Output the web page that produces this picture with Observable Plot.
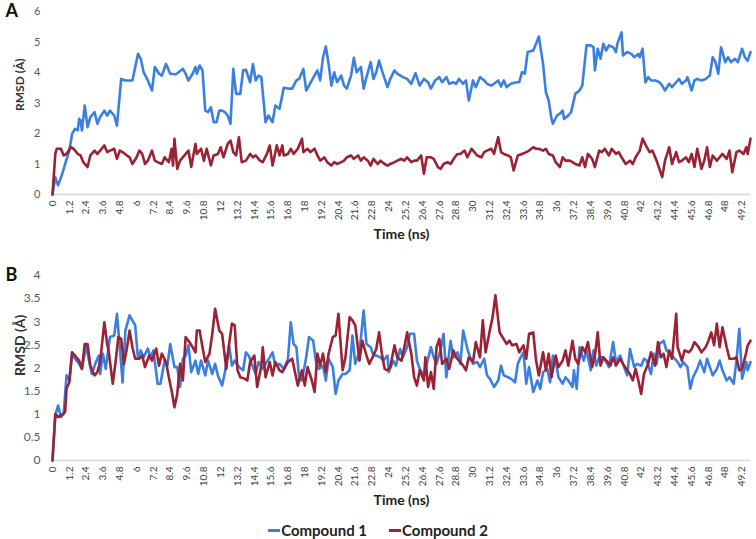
<!DOCTYPE html>
<html><head><meta charset="utf-8">
<script src="https://cdn.jsdelivr.net/npm/d3@7"></script>
<script src="https://cdn.jsdelivr.net/npm/@observablehq/plot@0.6"></script>
<style>
body{margin:0;background:#fff;font-family:Lato,"Open Sans",sans-serif;}
#wrap{position:relative;width:756px;height:539px;overflow:hidden;background:#fff;}
#a{position:absolute;left:0;top:0;}
#b{position:absolute;left:0;top:262px;}
#legend{position:absolute;left:0;top:519px;width:756px;height:22px;display:flex;justify-content:center;align-items:center;gap:22px;font-weight:bold;font-size:15px;color:#222;}
#legend .it{display:flex;align-items:center;}
#legend .sw{display:inline-block;width:12px;height:3px;margin-right:1px;}
</style>
</head><body>
<div id="wrap"><div id="a"></div><div id="b"></div>
<div id="legend"></div></div>
<script>
const seriesNames = ["Compound 1", "Compound 2"];
const seriesColors = ["#3b7fe0", "#9b2234"];
const xTicks = [0,1.2,2.4,3.6,4.8,6,7.2,8.4,9.6,10.8,12,13.2,14.4,15.6,16.8,18,19.2,20.4,21.6,22.8,24,25.2,26.4,27.6,28.8,30,31.2,32.4,33.6,34.8,36,37.2,38.4,39.6,40.8,42,43.2,44.4,45.6,46.8,48,49.2];
const yTicksA = [0,1,2,3,4,5,6];
const yTicksB = [0,0.5,1,1.5,2,2.5,3,3.5,4];

// Panel A, Compound 1
const tA1 = [0,0.2,0.4,0.7,0.9,1.2,1.4,1.6,1.8,1.9,2.0,2.1,2.3,2.5,2.7,3.0,3.2,3.4,3.7,3.9,4.1,4.4,4.6,4.9,5.2,5.7,6.1,6.3,6.5,6.8,7.1,7.3,7.6,7.8,8.1,8.4,8.8,9.0,9.3,9.5,9.7,10.0,10.2,10.3,10.5,10.7,10.9,11.1,11.3,11.5,11.7,11.9,12.1,12.3,12.5,12.7,12.9,13.1,13.4,13.6,13.8,14.1,14.3,14.5,14.7,14.9,15.2,15.4,15.7,15.9,16.2,16.5,
16.9,17.1,17.4,17.6,17.9,18.1,18.3,18.5,18.9,19.1,19.3,19.5,19.7,19.9,20.1,20.3,20.6,20.8,21.0,21.3,21.5,21.7,22.0,22.2,22.4,22.7,22.9,23.1,23.3,23.5,23.9,24.1,24.4,24.6,25.0,25.3,25.6,25.9,26.2,26.5,26.8,27.0,27.3,27.6,27.8,28.1,28.3,28.6,28.8,29.0,29.3,29.5,29.7,30.0,30.2,30.5,30.8,31.0,31.3,31.5,31.8,32.0,32.2,32.4,32.7,33.1,
33.3,33.5,33.7,33.9,34.3,34.5,34.7,35.0,35.2,35.4,35.6,35.7,36.0,36.2,36.4,36.5,36.8,37.0,37.3,37.6,37.8,38.1,38.4,38.6,38.7,38.9,39.1,39.3,39.5,39.7,40.0,40.2,40.3,40.6,40.7,41.0,41.3,41.5,41.8,41.9,42.1,42.3,42.5,42.7,43.0,43.3,43.5,43.7,44.0,44.2,44.5,44.7,44.9,45.2,45.3,45.6,45.8,46.0,46.3,46.6,46.9,47.1,47.3,47.5,47.7,48.0,48.2,48.4,48.7,48.9,49.2,49.4,49.6,49.8];
const vA1 = [0,0.57,0.30,0.68,1.00,1.44,1.99,2.15,2.10,2.48,2.43,2.10,2.92,2.21,2.54,2.70,2.32,2.54,2.75,2.59,2.75,2.59,2.26,3.79,3.74,3.74,4.61,4.45,4.01,3.74,3.41,4.18,3.96,3.90,4.28,3.96,3.94,4.01,4.12,3.96,3.74,3.96,4.18,3.96,4.23,4.07,2.75,2.70,2.86,2.37,2.37,2.75,2.75,2.70,2.59,2.32,4.12,3.30,3.30,4.07,4.09,3.68,4.28,3.74,3.90,3.85,2.37,2.59,2.37,2.92,2.81,3.50,
3.47,3.47,3.74,3.79,4.12,3.41,3.57,3.74,4.07,3.74,4.50,4.85,4.28,3.57,4.01,3.68,3.90,3.57,3.47,3.90,4.48,4.01,4.18,3.47,3.85,4.34,3.79,4.01,4.39,4.07,3.52,3.79,4.07,3.96,3.85,3.79,3.63,3.98,3.57,3.79,3.68,3.47,3.74,3.85,3.68,3.85,3.63,3.68,3.63,3.79,3.63,3.74,3.08,3.74,3.52,3.85,3.74,3.63,3.57,3.63,3.74,3.54,3.74,3.52,3.63,3.68,
3.68,4.01,3.96,4.67,4.72,4.94,5.18,4.28,3.36,3.08,2.48,2.32,2.59,2.65,2.75,2.48,2.59,2.70,3.30,3.41,3.57,4.89,4.89,4.83,4.07,4.78,4.45,4.94,4.72,4.89,4.83,4.67,4.94,5.32,4.56,4.67,4.61,4.50,4.61,4.50,4.78,3.68,3.85,3.74,3.74,3.68,3.57,3.41,3.63,3.52,3.68,3.79,3.63,3.74,3.85,3.41,3.74,3.79,3.74,3.79,3.90,4.50,4.34,3.96,4.83,4.34,4.50,4.34,4.45,4.34,4.78,4.50,4.39,4.67];

// Panel A, Compound 2
const tA2 = [0,0.2,0.3,0.6,0.8,1.0,1.3,1.5,1.8,2.0,2.2,2.5,2.7,3.0,3.2,3.4,3.7,3.9,4.1,4.4,4.6,4.8,5.0,5.3,5.5,5.7,6.0,6.2,6.4,6.6,6.8,7.1,7.3,7.5,7.8,8.0,8.3,8.5,8.6,8.7,8.9,9.1,9.5,9.7,9.9,10.2,10.3,10.6,10.8,11.0,11.3,11.5,11.8,12.0,12.2,12.5,12.7,12.9,13.1,13.3,13.5,13.8,14.1,14.3,14.5,14.8,15.0,15.3,15.5,15.7,16.0,16.2,16.4,
16.5,16.8,17.0,17.2,17.5,17.8,17.9,18.2,18.4,18.7,18.9,19.1,19.4,19.6,19.9,20.1,20.3,20.6,20.8,21.0,21.3,21.5,21.8,22.0,22.2,22.5,22.7,22.9,23.2,23.4,23.7,23.9,24.1,24.4,24.6,24.9,25.1,25.3,25.6,25.8,26.0,26.3,26.5,26.7,27.0,27.2,27.5,27.7,27.9,28.2,28.4,28.7,28.9,29.1,29.4,29.6,29.9,30.1,30.3,30.6,30.8,31.0,31.3,31.5,31.8,32.0,32.2,32.5,32.7,32.9,33.2,
33.5,33.8,34.0,34.3,34.5,34.7,35.0,35.2,35.4,35.7,35.9,36.2,36.4,36.6,36.9,37.1,37.3,37.6,37.8,38.0,38.2,38.5,38.7,39.0,39.2,39.4,39.7,39.9,40.2,40.4,40.6,40.9,41.2,41.4,41.6,41.9,42.1,42.4,42.6,42.8,43.1,43.3,43.5,43.7,44.0,44.2,44.5,44.7,44.9,45.2,45.4,45.6,45.8,46.0,46.3,46.5,46.7,46.9,47.1,47.4,47.6,47.8,48.1,48.3,48.5,48.8,49.0,49.3,49.5,49.6,49.8];
const vA2 = [0,1.33,1.50,1.50,1.28,1.33,1.55,1.50,1.33,1.28,1.06,0.90,1.28,1.44,1.33,1.44,1.61,1.39,1.44,1.50,1.17,1.44,1.39,1.28,1.22,1.00,1.22,1.44,1.33,1.00,1.11,1.44,1.11,1.06,1.00,1.22,1.06,1.50,0.95,1.83,0.84,1.11,1.33,1.44,0.90,1.66,1.33,1.50,1.11,1.50,0.95,1.28,1.33,1.55,1.22,1.66,1.77,1.39,1.28,1.88,1.06,1.11,1.33,1.22,1.28,1.11,1.06,1.33,1.61,0.95,1.61,1.28,1.61,
1.28,1.33,1.50,1.33,1.50,1.83,1.39,1.50,1.39,1.50,1.28,1.11,1.22,1.06,0.95,1.06,1.00,1.06,1.11,1.22,1.28,1.17,1.28,1.11,1.22,1.11,0.95,1.17,1.00,1.11,1.00,0.95,1.00,1.06,1.11,1.17,1.11,1.22,1.06,1.11,1.11,1.28,0.68,1.22,1.22,1.17,0.90,0.84,1.00,1.06,1.00,1.22,1.33,1.33,1.44,1.22,1.50,1.39,1.28,1.22,1.39,1.44,1.50,1.33,1.88,1.39,1.33,1.28,1.22,0.79,1.28,
1.33,1.39,1.44,1.55,1.50,1.50,1.44,1.50,1.33,1.28,1.06,0.90,1.22,1.11,1.11,1.06,1.00,0.95,1.22,0.90,1.33,1.17,0.90,1.44,1.39,1.50,1.28,1.50,1.33,1.39,1.22,1.00,1.11,1.00,1.22,1.44,1.83,1.55,1.39,1.44,1.11,0.84,0.57,1.11,1.55,1.00,1.39,1.06,1.11,1.22,1.06,1.33,0.90,1.50,0.84,1.11,1.55,0.90,1.28,1.11,1.22,1.33,1.17,1.44,0.73,1.39,1.44,1.33,1.55,1.33,1.83];

// Panel B, Compound 1
const tB1 = [0,0.2,0.4,0.6,0.8,1.0,1.2,1.4,1.6,1.9,2.1,2.4,2.6,2.8,3.1,3.3,3.4,3.6,3.8,4.0,4.1,4.4,4.6,4.8,5.0,5.2,5.5,5.7,5.9,6.1,6.3,6.5,6.8,7.0,7.2,7.5,7.7,8.0,8.2,8.4,8.7,8.9,9.1,9.3,9.5,9.7,9.9,10.2,10.4,10.6,10.9,11.1,11.4,11.6,11.8,12.1,12.3,12.6,12.8,13.0,13.3,13.6,13.8,14.0,14.3,14.5,14.7,15.0,15.2,15.5,15.7,15.9,16.2,16.5,
16.8,17.0,17.2,17.4,17.6,17.8,18.1,18.3,18.6,18.8,19.0,19.3,19.5,19.7,20.0,20.2,20.4,20.7,20.9,21.2,21.4,21.6,21.9,22.2,22.4,22.7,22.9,23.1,23.4,23.6,23.9,24.0,24.3,24.5,24.8,25.0,25.3,25.5,25.8,26.0,26.2,26.5,26.7,27.0,27.2,27.4,27.7,27.9,28.1,28.4,28.6,28.9,29.1,29.3,29.6,29.8,30.0,30.3,30.5,30.8,31.0,31.2,31.5,31.8,32.0,32.2,32.5,32.7,33.0,33.2,33.4,
33.6,33.8,34.0,34.3,34.6,34.8,35.0,35.3,35.5,35.7,35.9,36.1,36.4,36.6,36.8,37.1,37.2,37.4,37.6,37.9,38.1,38.4,38.6,38.8,39.0,39.3,39.5,39.7,40.0,40.2,40.5,40.7,41.0,41.2,41.5,41.7,42.0,42.2,42.4,42.7,42.9,43.1,43.3,43.6,43.8,44.1,44.3,44.6,44.8,45.0,45.3,45.5,45.7,46.0,46.2,46.5,46.7,46.9,47.1,47.4,47.6,47.8,48.1,48.3,48.6,48.8,49.0,49.2,49.5,49.6,49.8];
const vB1 = [0,0.97,1.19,0.94,1.01,1.84,1.73,2.34,2.20,2.09,1.98,2.49,2.16,1.87,2.13,2.27,1.87,2.31,1.98,2.45,2.67,2.70,3.17,2.45,1.69,2.81,3.14,3.03,2.92,2.20,2.38,2.23,2.42,2.23,2.38,1.66,1.66,2.16,2.05,2.52,2.02,2.02,1.59,2.20,2.27,2.49,1.91,2.16,1.87,2.16,1.84,2.16,1.87,2.09,1.84,1.62,1.91,2.49,2.05,2.16,2.02,1.95,2.34,2.27,2.02,1.87,2.13,1.98,2.09,2.23,2.34,2.05,2.09,1.98,
2.20,2.99,2.52,2.45,1.77,1.73,2.23,2.67,2.59,2.13,1.98,2.05,1.73,2.20,2.02,1.44,1.73,1.87,1.87,1.95,2.70,2.09,2.34,3.24,2.52,2.45,2.27,2.27,2.23,2.16,2.27,1.91,2.16,2.05,2.41,2.23,2.45,2.74,2.74,2.16,1.98,1.84,2.09,2.45,2.23,2.09,2.41,2.74,1.80,2.59,2.23,2.34,2.09,2.81,2.41,2.23,2.09,2.13,2.02,2.20,1.84,1.77,1.59,1.73,2.05,1.84,1.80,1.77,1.69,2.09,2.23,
2.34,1.66,2.02,1.48,1.73,1.55,1.91,1.98,1.69,2.27,2.16,1.80,1.66,1.80,1.73,1.59,1.95,1.55,2.45,2.16,2.38,1.95,2.38,2.05,2.23,2.23,2.13,2.02,2.56,2.13,2.27,2.09,1.84,2.41,2.02,2.09,2.05,2.20,2.16,1.87,2.31,2.09,2.52,2.59,2.38,2.31,2.23,2.13,2.02,2.13,2.02,1.55,1.80,1.98,2.16,1.91,2.20,2.02,1.84,1.98,2.16,1.95,1.73,1.80,1.66,2.16,2.85,1.77,2.13,1.95,2.13];

// Panel B, Compound 2
const tB2 = [0,0.2,0.4,0.6,0.9,1.0,1.2,1.4,1.6,1.9,2.1,2.3,2.5,2.7,3.0,3.2,3.4,3.7,3.9,4.0,4.3,4.5,4.7,4.9,5.1,5.3,5.5,5.7,5.9,6.2,6.4,6.6,6.9,7.1,7.4,7.6,7.8,8.1,8.3,8.5,8.7,8.9,9.1,9.3,9.5,9.7,10.0,10.2,10.3,10.5,10.7,10.9,11.2,11.4,11.6,11.9,12.1,12.4,12.6,12.8,13.0,13.2,13.4,13.7,13.9,14.1,14.4,14.6,14.9,15.0,15.2,15.5,15.7,15.9,16.2,16.4,
16.8,17.1,17.3,17.5,17.8,18.0,18.2,18.5,18.7,18.9,19.1,19.3,19.5,19.7,20.0,20.2,20.4,20.7,20.9,21.2,21.4,21.6,21.9,22.1,22.4,22.6,22.9,23.1,23.3,23.5,23.7,23.9,24.1,24.4,24.6,24.9,25.1,25.3,25.6,25.8,26.0,26.2,26.5,26.6,26.8,27.0,27.2,27.4,27.6,27.8,28.1,28.3,28.6,28.8,29.0,29.3,29.5,29.7,30.0,30.2,30.5,30.7,30.9,31.2,31.4,31.6,31.9,32.1,32.4,32.6,32.8,33.1,33.3,33.6,33.8,34.0,
34.3,34.5,34.7,35.0,35.2,35.4,35.6,35.9,36.1,36.4,36.6,36.8,37.1,37.3,37.5,37.8,38.0,38.2,38.5,38.7,38.9,39.1,39.3,39.6,39.8,40.0,40.2,40.5,40.7,41.0,41.2,41.4,41.6,41.8,42.0,42.2,42.5,42.7,43.0,43.2,43.4,43.6,43.8,44.0,44.2,44.5,44.6,44.9,45.1,45.4,45.6,45.8,46.1,46.3,46.6,46.8,47.0,47.2,47.4,47.6,47.8,48.1,48.3,48.6,48.8,49.0,49.2,49.5,49.6,49.8];
const vB2 = [0,1.01,0.94,0.97,1.05,1.55,1.69,2.34,2.27,2.16,1.98,2.52,2.52,2.05,1.84,1.91,2.13,2.99,2.52,2.38,1.66,2.13,2.67,2.63,2.09,2.41,2.81,2.45,2.20,2.20,2.27,2.02,2.27,2.16,2.42,2.05,2.31,2.13,1.80,1.51,1.15,1.44,2.09,1.73,2.67,2.59,2.45,2.34,2.81,2.81,2.45,2.13,2.31,2.74,3.28,2.81,2.74,1.98,2.52,2.96,2.92,1.95,1.80,1.77,1.73,2.13,2.27,1.59,2.05,2.45,1.80,2.13,1.84,2.13,1.95,1.91,
2.13,2.20,1.91,1.62,1.95,1.62,2.02,1.73,1.48,2.31,2.05,2.31,1.91,2.31,2.67,2.70,3.17,1.95,2.23,3.10,3.03,2.92,2.16,2.59,2.27,2.09,2.27,2.41,2.77,2.31,1.98,1.95,2.02,2.49,2.23,2.16,2.45,2.77,2.31,1.80,1.62,1.95,1.73,2.23,1.59,1.91,1.55,2.45,2.63,2.09,2.20,1.98,2.38,2.23,2.16,2.05,1.95,2.23,2.13,2.56,2.23,3.03,2.34,2.81,3.10,3.57,2.77,2.67,2.52,2.59,2.49,2.52,2.34,2.49,2.20,2.74,
2.77,2.16,1.84,2.34,1.95,2.31,1.80,2.27,2.02,2.16,2.38,2.05,2.59,2.20,2.09,2.45,2.34,2.56,2.02,2.27,2.77,2.05,2.23,2.13,2.05,2.23,2.05,2.20,2.09,1.95,1.87,1.73,1.98,1.73,1.44,1.87,2.09,2.34,2.05,2.56,2.23,2.31,2.02,2.38,2.20,3.17,2.45,2.16,2.38,2.34,2.41,2.56,2.45,2.34,2.45,2.59,2.77,2.49,2.96,2.45,2.88,2.45,2.20,2.20,2.23,1.95,1.98,2.34,2.49,2.59];

function rows(ts, vs, s) { return ts.map((t, i) => ({t, v: vs[i], s})); }

function panel(o) {
  const data = [...rows(o.t1, o.v1, seriesNames[0]), ...rows(o.t2, o.v2, seriesNames[1])];
  return Plot.plot({
    width: 756, height: o.height,
    marginLeft: 52, marginRight: 6, marginTop: o.mt, marginBottom: o.mb,
    style: {fontFamily: "Lato, 'Open Sans', sans-serif", background: "transparent", overflow: "visible"},
    x: {domain: [0, 49.8]},
    y: {domain: [0, o.yMax]},
    color: {domain: seriesNames, range: seriesColors},
    marks: [
      Plot.ruleY([0], {stroke: "#d6d6d6", strokeWidth: 1.3}),
      Plot.axisY({ticks: o.yTicks, tickSize: 0, tickPadding: 12, fontSize: o.yFont, color: "#595959", label: null, tickFormat: d => String(d)}),
      Plot.axisX({ticks: xTicks, tickSize: 0, tickPadding: 6, tickRotate: -90, fontSize: 10, color: "#404040", label: null, tickFormat: d => String(d)}),
      Plot.line(data, {x: "t", y: "v", z: "s", stroke: "s", strokeWidth: 2.6, strokeLinejoin: "round"}),
      Plot.text([o.letter], {frameAnchor: "top-left", dx: -47, textAnchor: "start", lineAnchor: "middle", fontSize: 18, fontWeight: "bold", fill: "#111"}),
      Plot.text(["RMSD (Å)"], {frameAnchor: "left", dx: -32, dy: 8, rotate: -90, fontSize: o.titleFont, fontWeight: "bold", fill: "#333"}),
      Plot.text(["Time (ns)"], {frameAnchor: "bottom", dy: 40, lineAnchor: "middle", fontSize: 14, fontWeight: "bold", fill: "#222"})
    ]
  });
}

document.getElementById("a").append(panel({letter: "A", t1: tA1, v1: vA1, t2: tA2, v2: vA2, height: 262, mt: 11, mb: 68, yMax: 6, yTicks: yTicksA, yFont: 11, titleFont: 12}));
document.getElementById("b").append(panel({letter: "B", t1: tB1, v1: vB1, t2: tB2, v2: vB2, height: 250, mt: 13, mb: 52, yMax: 4, yTicks: yTicksB, yFont: 12, titleFont: 14}));

const lg = document.getElementById("legend");
seriesNames.forEach((n, i) => {
  const it = document.createElement("div"); it.className = "it";
  const sw = document.createElement("span"); sw.className = "sw"; sw.style.background = seriesColors[i];
  const tx = document.createElement("span"); tx.textContent = n;
  it.append(sw, tx); lg.append(it);
});
</script>
</body></html>
